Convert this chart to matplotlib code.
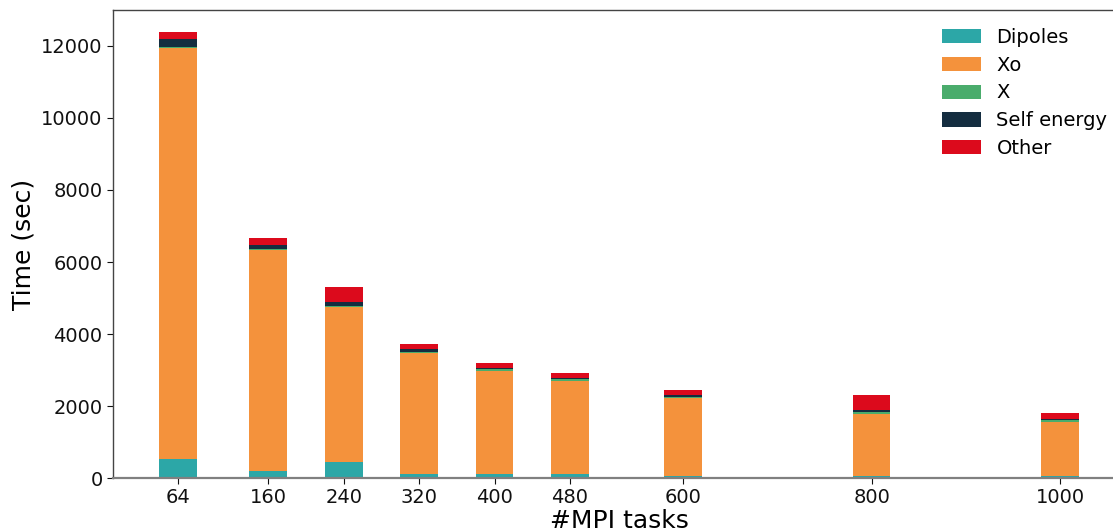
import numpy as np
import matplotlib.pyplot as plt

# Время работы по этапам (сек) для разного числа MPI-задач
tasks = [64, 160, 240, 320, 400, 480, 600, 800, 1000]
dipoles = [520, 205, 435, 100, 100, 100, 45, 45, 45]
xo = [11425, 6130, 4315, 3372, 2886, 2608, 2186, 1733, 1511]
x_part = [30, 36, 36, 37, 33, 33, 28, 55, 47]
self_energy = [220, 103, 103, 74, 28, 37, 47, 56, 36]
other = [195, 194, 417, 139, 147, 139, 138, 417, 167]

labels = ['Dipoles', 'Xo', 'X', 'Self energy', 'Other']
colors = ['#2ca7a7', '#f4923c', '#4aac6c', '#142d40', '#dc0a1c']


def main():
    fig = plt.figure(figsize=(11.13, 5.31), dpi=100)
    ax = fig.add_axes([113 / 1113, 53 / 531, 1012 / 1113, 468 / 531])

    bottom = np.zeros(len(tasks))
    for vals, lab, col in zip([dipoles, xo, x_part, self_energy, other], labels, colors):
        ax.bar(tasks, vals, width=40, bottom=bottom, color=col, label=lab)
        bottom += np.array(vals)

    ax.set_xlim(-4.8, 1068.8)
    ax.set_ylim(0, 13000)
    ax.set_xticks(tasks)
    ax.set_xticklabels([str(t) for t in tasks])
    ax.set_yticks(range(0, 12001, 2000))
    ax.tick_params(labelsize=14, length=4, colors='#111111')

    ax.set_xlabel('#MPI tasks', fontsize=18, labelpad=1)
    ax.set_ylabel('Time (sec)', fontsize=18, labelpad=4)

    for side in ['left', 'top', 'right']:
        ax.spines[side].set_color('#444444')
        ax.spines[side].set_linewidth(1)
    ax.spines['bottom'].set_color('#808080')
    ax.spines['bottom'].set_linewidth(1.6)

    ax.legend(loc='upper right', bbox_to_anchor=(1125 / 1012 - 113 / 1012, 0.999),
              frameon=False, fontsize=14, handlelength=2.0, handleheight=0.75,
              labelspacing=0.45, handletextpad=0.8)

    fig.savefig('out.png', dpi=100)


if __name__ == '__main__':
    main()
